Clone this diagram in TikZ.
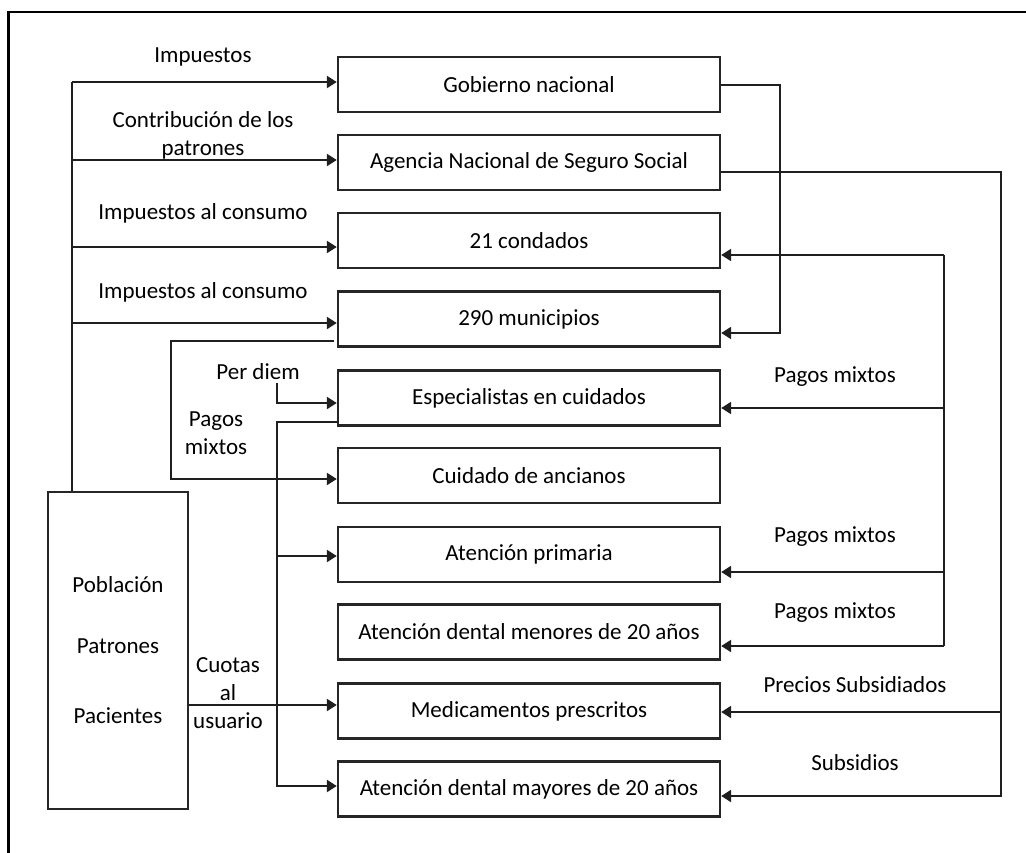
\documentclass[tikz,border=0pt]{standalone}
\usepackage{fontspec}
\setmainfont{Carlito}
\usetikzlibrary{arrows.meta}
\begin{document}
\begin{tikzpicture}[x=1pt,y=-1pt,
  line/.style={draw=black!88,line width=2.3pt},
  arr/.style={line,-{Triangle[length=10pt,width=12pt]}},
  box/.style={draw=black!85,line width=2.4pt,minimum width=382pt,minimum height=55pt,inner sep=0pt,font=\fontsize{23}{28}\selectfont},
  lbl/.style={font=\fontsize{23}{28}\selectfont,inner sep=0pt,align=center}
]
\useasboundingbox (0,0) rectangle (1026,852);
\draw[line width=2.5pt] (8.5,860) -- (8.5,12) -- (1030,12);

% boxes
\node[box] (b1) at (529,84.5) {Gobierno nacional};
\node[box] (b2) at (529,162.5) {Agencia Nacional de Seguro Social};
\node[box] (b3) at (529,240.5) {21 condados};
\node[box] (b4) at (529,319) {290 municipios};
\node[box] (b5) at (529,398) {Especialistas en cuidados};
\node[box] (b6) at (529,475.5) {Cuidado de ancianos};
\node[box] (b7) at (529,554.5) {Atención primaria};
\node[box] (b8) at (529,632) {Atención dental menores de 20 años};
\node[box] (b9) at (529,711) {Medicamentos prescritos};
\node[box] (b10) at (529,789) {Atención dental mayores de 20 años};

\node[draw=black!85,line width=2.4pt,minimum width=140pt,minimum height=317pt,inner sep=0pt] (pop) at (118,650.5) {};
\node[lbl] (popA) at (118,585) {Población};
\node[lbl] (popB) at (118,646) {Patrones};
\node[lbl] (popC) at (118,716) {Pacientes};

% left trunk
\coordinate (t1) at (72,82);
\coordinate (t2) at (72,160);
\coordinate (t3) at (72,247);
\coordinate (t4) at (72,323);
\draw[line] (t1) -- (t1 |- pop.north);
\draw[arr] (t1) -- (t1 -| b1.west);
\draw[arr] (t2) -- (t2 -| b2.west);
\draw[arr] (t3) -- (t3 -| b3.west);
\draw[arr] (t4) -- (t4 -| b4.west);

\node[lbl] (l1) at (203,57) {Impuestos};
\node[lbl] (l2) at (203,135) {Contribución de los\\patrones};
\node[lbl] (l3) at (203,213) {Impuestos al consumo};
\node[lbl] (l4) at (203,292) {Impuestos al consumo};

% municipios -> cuidado de ancianos
\coordinate (m0) at (334,341);
\coordinate (m1) at (171,341);
\coordinate (m2) at (171,479);
\draw[arr] (m0) -- (m1) -- (m2) -- (m2 -| b6.west);
\node[lbl] (l5) at (216,433.5) {Pagos\\mixtos};

% per diem
\node[lbl] (pd) at (258,372) {Per diem};
\coordinate (p0) at (277,383);
\coordinate (p1) at (277,403);
\draw[arr] (p0) -- (p1) -- (p1 -| b5.west);

% especialistas -> primaria, mayores
\coordinate (e0) at (338,422);
\coordinate (e1) at (277,422);
\coordinate (e2) at (277,556);
\coordinate (e3) at (277,786);
\draw[arr] (e0) -- (e1) -- (e3) -- (e3 -| b10.west);
\draw[arr] (e2) -- (e2 -| b7.west);

% cuotas
\coordinate (q0) at (pop.east |- 0,705);
\draw[arr] (q0) -- (q0 -| b9.west);
\node[lbl] (l6) at (228,693) {Cuotas\\al\\usuario};

% gobierno -> municipios
\coordinate (g1) at (780,85);
\coordinate (g2) at (780,333);
\draw[arr] (b1.east |- g1) -- (g1) -- (g2) -- (g2 -| b4.east);

% pagos mixtos vertical
\coordinate (v1) at (944,255);
\coordinate (v2) at (944,408);
\coordinate (v3) at (944,572);
\coordinate (v4) at (944,646);
\draw[line] (v1) -- (v4);
\draw[arr] (v1) -- (v1 -| b3.east);
\draw[arr] (v2) -- (v2 -| b5.east);
\draw[arr] (v3) -- (v3 -| b7.east);
\draw[arr] (v4) -- (v4 -| b8.east);
\node[lbl] (r1) at (835,377) {Pagos mixtos};
\node[lbl] (r2) at (835,537) {Pagos mixtos};
\node[lbl] (r3) at (835,613) {Pagos mixtos};

% agencia
\coordinate (a1) at (1001,172);
\coordinate (a2) at (1001,712);
\coordinate (a3) at (1001,796);
\draw[arr] (b2.east |- a1) -- (a1) -- (a3) -- (a3 -| b10.east);
\draw[arr] (a2) -- (a2 -| b9.east);
\node[lbl] (r4) at (855,685) {Precios Subsidiados};
\node[lbl] (r5) at (855,763) {Subsidios};
\end{tikzpicture}
\end{document}
